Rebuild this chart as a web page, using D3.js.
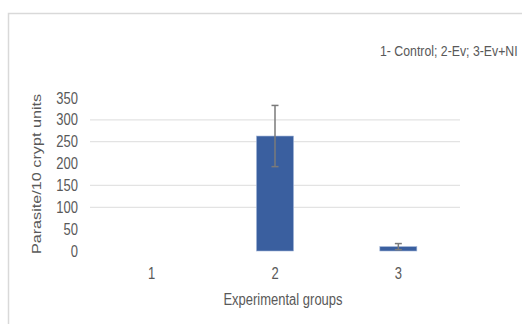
<!DOCTYPE html>
<html>
<head>
<meta charset="utf-8">
<script src="https://cdn.jsdelivr.net/npm/d3@7"></script>
<style>
  html, body { margin: 0; padding: 0; background: #fff; }
  svg { display: block; }
  text { font-family: "Liberation Sans", Arial, sans-serif; fill: #595959; }
</style>
</head>
<body>
<svg id="chart" width="522" height="324"></svg>
<script>
// Parasite counts per 10 crypt units for each experimental group
const groups = ["1", "2", "3"];
const means = [0, 263, 10];
const errors = [0, 70, 7];
const yTicks = [0, 50, 100, 150, 200, 250, 300, 350];
const gridValues = [100, 150, 250, 300];
const legendText = "1- Control; 2-Ev; 3-Ev+NI";
const xTitle = "Experimental groups";
const yTitle = "Parasite/10 crypt units";

// text is drawn slightly taller than wide
const STRETCH = 1.2;

const svg = d3.select("#chart");
const plot = { left: 90, right: 460, top: 98, bottom: 251 };

const x = d3.scaleBand()
  .domain(groups)
  .range([plot.left, plot.right])
  .paddingInner(0.7)
  .paddingOuter(0.35);

const y = d3.scaleLinear()
  .domain([0, 350])
  .range([plot.bottom, plot.top]);

// outer chart frame
svg.append("path")
  .attr("d", "M8.5,324 V13.5 H522")
  .attr("fill", "none")
  .attr("stroke", "#d9d9d9")
  .attr("stroke-width", 1.5);

// horizontal gridlines
svg.append("g")
  .selectAll("line")
  .data(gridValues)
  .join("line")
  .attr("x1", plot.left)
  .attr("x2", plot.right)
  .attr("y1", d => y(d))
  .attr("y2", d => y(d))
  .attr("stroke", "#e3e3e3")
  .attr("stroke-width", 1.3);

// y axis (labels only)
const yAxis = svg.append("g")
  .attr("transform", `translate(${plot.left - 12},0)`)
  .call(d3.axisLeft(y).tickValues(yTicks).tickSize(0).tickPadding(0));
yAxis.select(".domain").remove();
yAxis.selectAll("text")
  .style("font-size", "13px")
  .attr("dy", "0.32em")
  .attr("transform", `scale(1,${STRETCH})`)
  .attr("fill", "#595959");

// x axis (labels only)
const xAxis = svg.append("g")
  .attr("transform", `translate(0,${plot.bottom + 23})`)
  .call(d3.axisBottom(x).tickSize(0).tickPadding(0));
xAxis.select(".domain").remove();
xAxis.selectAll("text")
  .style("font-size", "13px")
  .attr("y", 0)
  .attr("dy", "0.35em")
  .attr("transform", `scale(1,${STRETCH})`)
  .attr("fill", "#595959");

// bars
svg.append("g")
  .selectAll("rect")
  .data(groups)
  .join("rect")
  .attr("x", d => x(d))
  .attr("width", x.bandwidth())
  .attr("y", (d, i) => y(means[i]))
  .attr("height", (d, i) => y(0) - y(means[i]))
  .attr("fill", "#3a5f9f")
  .attr("stroke", "#9fb3d6")
  .attr("stroke-width", 0.6);

// error bars
const eb = svg.append("g").attr("stroke", "#7a7a7a").attr("stroke-width", 1.5);
groups.forEach((g, i) => {
  if (errors[i] === 0) return;
  const cx = x(g) + x.bandwidth() / 2;
  const hi = y(means[i] + errors[i]);
  const lo = y(Math.max(0, means[i] - errors[i]));
  eb.append("line").attr("x1", cx).attr("x2", cx).attr("y1", hi).attr("y2", lo);
  eb.append("line").attr("x1", cx - 3.5).attr("x2", cx + 3.5).attr("y1", hi).attr("y2", hi);
  eb.append("line").attr("x1", cx - 3.5).attr("x2", cx + 3.5).attr("y1", lo).attr("y2", lo);
});

// legend note
svg.append("text")
  .attr("transform", `translate(380,51) scale(1,${STRETCH})`)
  .attr("dy", "0.35em")
  .style("font-size", "12.3px")
  .text(legendText);

// axis titles
svg.append("text")
  .attr("transform", `translate(283,300) scale(1,${STRETCH})`)
  .attr("text-anchor", "middle")
  .attr("dy", "0.35em")
  .style("font-size", "13px")
  .text(xTitle);

svg.append("text")
  .attr("transform", `translate(36,174) rotate(-90) scale(${STRETCH},1)`)
  .attr("text-anchor", "middle")
  .attr("dy", "0.35em")
  .style("font-size", "13.5px")
  .text(yTitle);
</script>
</body>
</html>
